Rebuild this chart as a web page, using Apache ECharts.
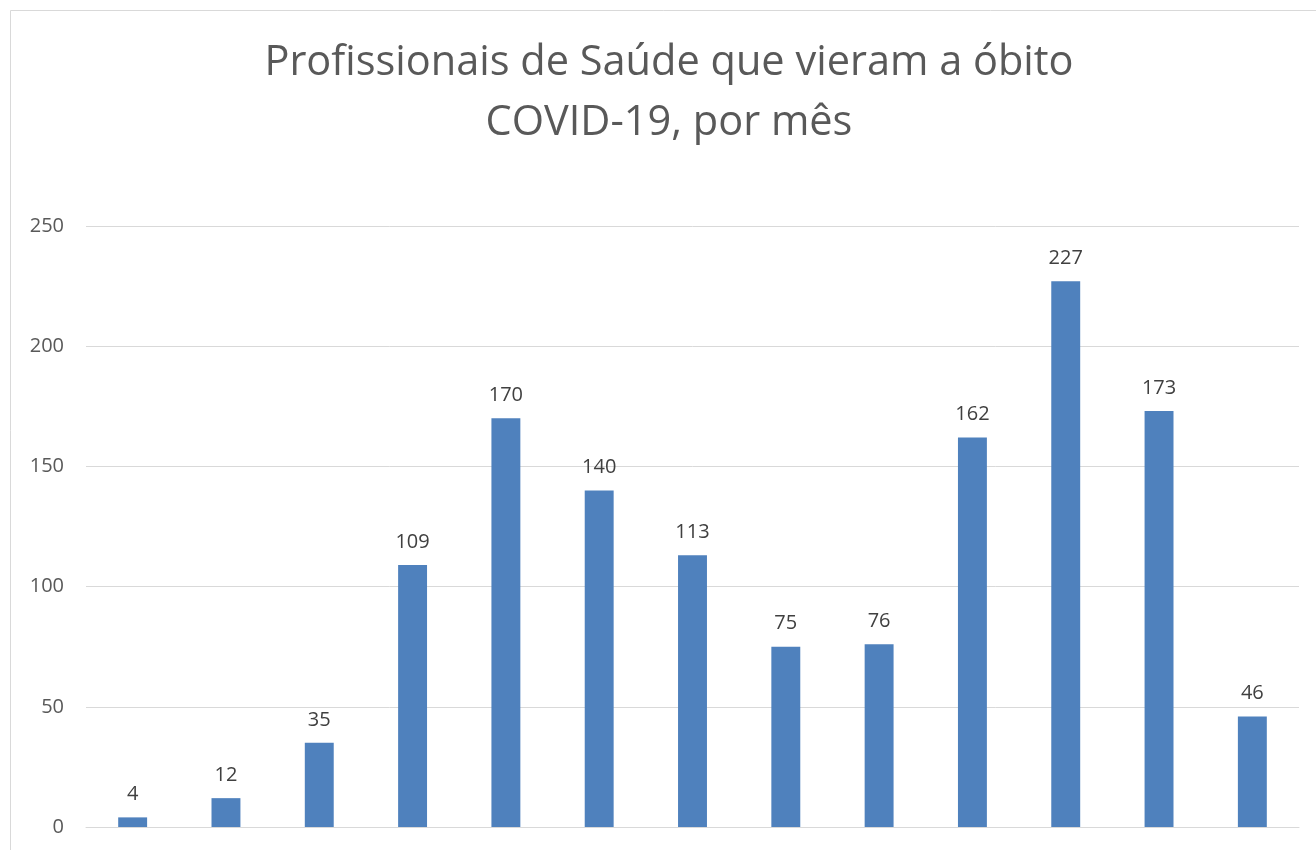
<!DOCTYPE html>
<html>
<head>
<meta charset="utf-8">
<script src="https://cdn.jsdelivr.net/npm/echarts@6/dist/echarts.min.js"></script>
<style>html,body{margin:0;padding:0;background:#fff;}#c{width:1316px;height:850px;}</style>
</head>
<body>
<div id="c"></div>
<script>
const titleLines = ['Profissionais de Saúde que vieram a óbito', 'COVID-19, por mês'];
const categories = ['mar/20','abr/20','mai/20','jun/20','jul/20','ago/20','set/20','out/20','nov/20','dez/20','jan/21','fev/21','mar/21'];
const values = [4, 12, 35, 109, 170, 140, 113, 75, 76, 162, 227, 173, 46];
const yTicks = [0, 50, 100, 150, 200, 250];

const chart = echarts.init(document.getElementById('c'), null, {renderer: 'canvas'});
chart.setOption({
  animation: false,
  backgroundColor: '#fff',
  graphic: [{
    type: 'rect', silent: true,
    shape: {x: 10.5, y: 10.5, width: 1400, height: 1000},
    style: {fill: 'none', stroke: '#d9d9d9', lineWidth: 1}
  }, {
    type: 'text', silent: true, x: 669, y: 33,
    style: {
      text: titleLines.join('\n'), textAlign: 'center', textVerticalAlign: 'top',
      fontFamily: 'Open Sans', fontSize: 41.5, fontWeight: 'normal', fill: '#595959', lineHeight: 60
    }
  }],
  grid: {left: 86, right: 17, top: 226, bottom: 23, containLabel: false},
  xAxis: {
    type: 'category', data: categories,
    axisLine: {show: true, lineStyle: {color: '#d9d9d9', width: 1}},
    axisTick: {show: false},
    axisLabel: {show: false}
  },
  yAxis: {
    type: 'value', min: yTicks[0], max: yTicks[yTicks.length - 1], interval: 50,
    axisLine: {show: false}, axisTick: {show: false},
    splitLine: {lineStyle: {color: '#d9d9d9', width: 1}},
    axisLabel: {fontFamily: 'Open Sans', fontSize: 20, color: '#595959', margin: 22}
  },
  series: [{
    type: 'bar', data: values, barWidth: '31%',
    itemStyle: {color: '#4f81bd'},
    label: {show: true, position: 'top', distance: 13, fontFamily: 'Open Sans', fontSize: 20, color: '#404040'}
  }]
});
</script>
</body>
</html>
